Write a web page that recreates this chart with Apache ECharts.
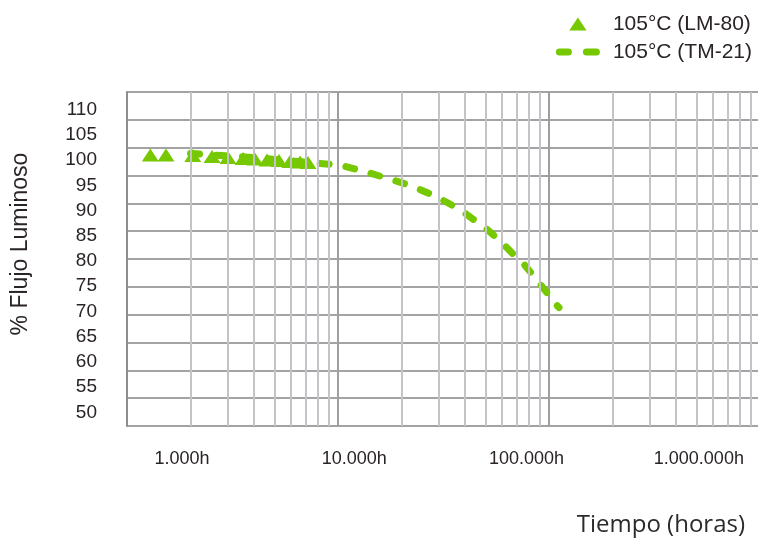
<!DOCTYPE html>
<html>
<head>
<meta charset="utf-8">
<script src="https://cdn.jsdelivr.net/npm/echarts@6/dist/echarts.min.js"></script>
<style>
  html, body { margin: 0; padding: 0; background: #ffffff; }
  #chart { width: 758px; height: 540px; }
</style>
</head>
<body>
<div id="chart"></div>
<script>
// ---- data ----
const yTickValues = [50, 55, 60, 65, 70, 75, 80, 85, 90, 95, 100, 105, 110];
const xTickValues = [1000, 10000, 100000, 1000000];
const xTickLabels = ['1.000h', '10.000h', '100.000h', '1.000.000h'];
const minorGridHours = [2000, 3000, 4000, 5000, 6000, 7000, 8000, 9000,
                        20000, 30000, 40000, 50000, 60000, 70000, 80000, 90000,
                        200000, 300000, 400000, 500000, 600000, 700000, 800000, 900000];

const lm80Name = '105°C (LM-80)';
const lm80Hours = [1290, 1530, 2050, 2530, 3010, 3550, 4040, 4610, 5250, 5920, 6610, 7210];
const lm80Flux  = [101.0, 101.0, 100.9, 100.7, 100.5, 100.3, 100.2, 100.0, 99.9, 99.7, 99.6, 99.5];

const tm21Name = '105°C (TM-21)';
const tm21Hours = [2000, 4000, 7000, 10200, 12700, 16800, 22300, 29400, 37900, 43600, 50800, 58600, 66800, 76700, 86300, 96200, 107900, 111500];
const tm21Flux  = [101.3, 100.5, 99.6, 99.0, 98.0, 96.5, 94.9, 92.7, 90.2, 88.3, 86.3, 84.0, 81.6, 79.2, 76.6, 74.1, 71.4, 70.8];

const yTitle = '% Flujo Luminoso';
const xTitle = 'Tiempo (horas)';

// ---- styles ----
const green = '#76c800';
const inkColor = '#2a2424';
const tickFont = "'Liberation Sans', Arial, sans-serif";
const textFont = "'Liberation Sans', Arial, Helvetica, sans-serif";
const triangleIcon = 'path://M8,0 L16,12 L0,12 Z';
const dashIcon = 'path://M3.5,0 H12.5 A3.5,3.5 0 0 1 12.5,7 H3.5 A3.5,3.5 0 0 1 3.5,0 Z M30.5,0 H40.5 A3.5,3.5 0 0 1 40.5,7 H30.5 A3.5,3.5 0 0 1 30.5,0 Z';

const chart = echarts.init(document.getElementById('chart'), null, { renderer: 'canvas' });

chart.setOption({
  animation: false,
  backgroundColor: '#ffffff',
  title: {
    text: xTitle,
    right: 8,
    top: 508,
    textStyle: {
      fontFamily: "'Open Sans', 'Noto Sans', sans-serif",
      fontWeight: 'normal',
      fontSize: 24,
      color: '#2b2b2b'
    }
  },
  legend: {
    orient: 'vertical',
    right: 1,
    top: 8,
    itemWidth: 44,
    itemHeight: 13,
    itemGap: 6,
    symbolKeepAspect: true,
    textStyle: {
      fontFamily: textFont,
      fontSize: 21,
      lineHeight: 22,
      color: inkColor,
      padding: [0, 0, 0, 8]
    },
    data: [
      { name: lm80Name, icon: triangleIcon, itemStyle: { color: green, opacity: 1 } },
      { name: tm21Name, icon: dashIcon, itemStyle: { color: green, opacity: 1 } }
    ]
  },
  grid: {
    left: 127,
    right: -2,
    top: 92,
    bottom: 114,
    containLabel: false,
    outerBoundsMode: 'none'
  },
  xAxis: [
    {
      type: 'log',
      logBase: 10,
      min: 1000,
      max: 1000000,
      position: 'bottom',
      axisLine: { show: false },
      axisTick: { show: false },
      axisLabel: { show: false },
      splitLine: { show: true, lineStyle: { color: '#9e9e9e', width: 2 } }
    },
    {
      // tick label axis (labels sit where the reference prints them)
      type: 'log',
      logBase: 10,
      min: 479.8,
      max: 2264000,
      position: 'bottom',
      axisLine: { show: false },
      axisTick: { show: false },
      splitLine: { show: false },
      axisLabel: {
        customValues: xTickValues,
        margin: 22,
        fontFamily: tickFont,
        fontSize: 18,
        lineHeight: 22,
        color: inkColor,
        formatter: function (v) {
          const i = xTickValues.findIndex(t => Math.abs(Math.log10(t) - Math.log10(v)) < 1e-6);
          return i >= 0 ? xTickLabels[i] : '';
        }
      }
    }
  ],
  yAxis: [
    {
      type: 'value',
      min: 50,
      max: 110,
      interval: 5,
      position: 'left',
      name: yTitle,
      nameLocation: 'middle',
      nameRotate: 90,
      nameGap: 95,
      nameTextStyle: {
        fontFamily: textFont,
        fontSize: 23,
        color: inkColor,
        padding: [0, 0, 0, 30]
      },
      axisLine: { show: true, onZero: false, lineStyle: { color: '#8e8e8e', width: 2 } },
      axisTick: { show: false },
      axisLabel: { show: false },
      splitLine: { show: true, lineStyle: { color: '#a3a3a3', width: 2 } }
    },
    {
      // tick label axis
      type: 'value',
      min: 47.31,
      max: 113.49,
      position: 'left',
      axisLine: { show: false },
      axisTick: { show: false },
      splitLine: { show: false },
      axisLabel: {
        customValues: yTickValues,
        margin: 30,
        fontFamily: tickFont,
        fontSize: 19,
        color: inkColor
      }
    }
  ],
  series: [
    {
      name: 'grid-minor',
      type: 'line',
      xAxisIndex: 0,
      yAxisIndex: 0,
      data: [],
      silent: true,
      z: 1,
      markLine: {
        silent: true,
        symbol: ['none', 'none'],
        label: { show: false },
        lineStyle: { color: '#c4c4c8', width: 2, type: 'solid' },
        emphasis: { disabled: true },
        data: minorGridHours.map(h => ({ xAxis: h }))
      }
    },
    {
      name: lm80Name,
      type: 'scatter',
      xAxisIndex: 0,
      yAxisIndex: 1,
      symbol: 'triangle',
      symbolSize: [17, 13],
      itemStyle: { color: green, opacity: 1 },
      z: 3,
      data: lm80Hours.map((h, i) => [h, lm80Flux[i]])
    },
    {
      name: tm21Name,
      type: 'line',
      xAxisIndex: 0,
      yAxisIndex: 1,
      symbol: 'none',
      showSymbol: false,
      itemStyle: { color: green },
      lineStyle: { color: green, width: 7, type: [9, 17], cap: 'round' },
      z: 4,
      data: tm21Hours.map((h, i) => [h, tm21Flux[i]])
    }
  ]
});
</script>
</body>
</html>
